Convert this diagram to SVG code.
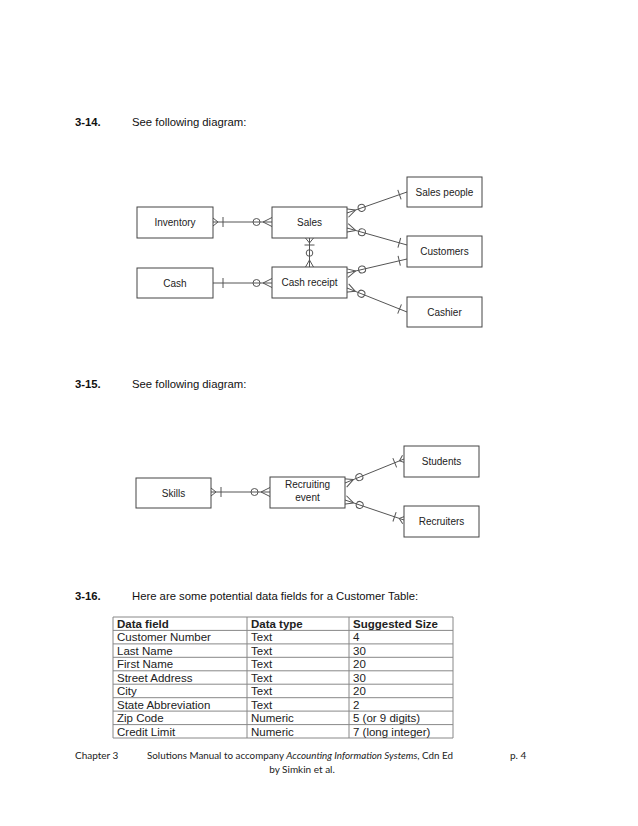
<svg xmlns="http://www.w3.org/2000/svg" width="638" height="826" viewBox="0 0 638 826">
<style>
.head{font-family:"Liberation Sans",Arial,sans-serif;font-size:11.3px;fill:#111}
.b{font-weight:bold}
.ent rect{fill:#fff;stroke:#444;stroke-width:1}
.ent text{font-family:"Liberation Sans",Arial,sans-serif;font-size:10px;fill:#222;text-anchor:middle}
.conn path{fill:none;stroke:#555;stroke-width:1}
.mk{fill:none;stroke:#555;stroke-width:1}
.tbl line{stroke:#888;stroke-width:1}
.tbl text{font-family:"Liberation Sans",Arial,sans-serif;font-size:11.5px;fill:#222}
.foot{font-family:Lato,"Open Sans",sans-serif;font-size:10px;fill:#222}
</style>
<defs>
<marker id="zm" markerUnits="userSpaceOnUse" markerWidth="40" markerHeight="20" refX="0" refY="0" orient="auto-start-reverse" overflow="visible">
<path class="mk" d="M-9,0 L0,-4.5 M-9,0 L0,4.5"/>
<circle class="mk" cx="-15.5" cy="0" r="3.5" fill="#fff"/>
</marker>
<marker id="zmS" markerUnits="userSpaceOnUse" markerWidth="40" markerHeight="20" refX="0" refY="0" orient="auto-start-reverse" overflow="visible">
<path class="mk" d="M-7,0 L0,-4 M-7,0 L0,4"/>
<circle class="mk" cx="-14" cy="0" r="3.3" fill="#fff"/>
</marker>
<marker id="om" markerUnits="userSpaceOnUse" markerWidth="40" markerHeight="20" refX="0" refY="0" orient="auto-start-reverse" overflow="visible">
<path class="mk" d="M-5,0 L0,-4 M-5,0 L0,4 M-10,-5 L-10,5"/>
</marker>
<marker id="omS" markerUnits="userSpaceOnUse" markerWidth="40" markerHeight="20" refX="0" refY="0" orient="auto-start-reverse" overflow="visible">
<path class="mk" d="M-5,0 L0,-4 M-5,0 L0,4 M-7,-5 L-7,5"/>
</marker>
<marker id="one" markerUnits="userSpaceOnUse" markerWidth="40" markerHeight="20" refX="0" refY="0" orient="auto-start-reverse" overflow="visible">
<path class="mk" d="M-8,-5 L-8,5"/>
</marker>
<marker id="oneL" markerUnits="userSpaceOnUse" markerWidth="40" markerHeight="20" refX="0" refY="0" orient="auto-start-reverse" overflow="visible">
<path class="mk" d="M-10,-5 L-10,5"/>
</marker>
</defs>
<rect width="638" height="826" fill="#fff"/>

<text class="head b" x="75" y="126">3-14.</text>
<text class="head" x="132" y="126">See following diagram:</text>
<text class="head b" x="75" y="388">3-15.</text>
<text class="head" x="132" y="388">See following diagram:</text>
<text class="head b" x="75" y="600">3-16.</text>
<text class="head" x="132" y="600">Here are some potential data fields for a Customer Table:</text>

<g id="connectors" class="conn">
<path d="M213,222 H272" marker-start="url(#om)" marker-end="url(#zm)"/>
<path d="M213,283 H272" marker-start="url(#oneL)" marker-end="url(#zm)"/>
<path d="M309.5,238 V267" marker-start="url(#omS)" marker-end="url(#zmS)"/>
<path d="M347,213 L407,192" marker-start="url(#zm)" marker-end="url(#one)"/>
<path d="M347,228 L407,245" marker-start="url(#zm)" marker-end="url(#one)"/>
<path d="M347,273 L407,259" marker-start="url(#zm)" marker-end="url(#one)"/>
<path d="M347,288 L407,312" marker-start="url(#zm)" marker-end="url(#one)"/>
<path d="M211,492 H270" marker-start="url(#om)" marker-end="url(#zm)"/>
<path d="M345,483 L404,459" marker-start="url(#zm)" marker-end="url(#om)"/>
<path d="M345,500 L404,520" marker-start="url(#zm)" marker-end="url(#om)"/>
</g>

<g id="inventory" class="ent"><rect x="137" y="207" width="76" height="31"/><text x="175" y="226">Inventory</text></g>
<g id="sales" class="ent"><rect x="272" y="207" width="75" height="31"/><text x="309.5" y="226">Sales</text></g>
<g id="cash" class="ent"><rect x="137" y="268" width="76" height="30"/><text x="175" y="286.5">Cash</text></g>
<g id="cash-receipt" class="ent"><rect x="272" y="267" width="75" height="31"/><text x="309.5" y="286">Cash receipt</text></g>
<g id="sales-people" class="ent"><rect x="407" y="177" width="75" height="30"/><text x="444.5" y="195.5">Sales people</text></g>
<g id="customers" class="ent"><rect x="407" y="236" width="75" height="31"/><text x="444.5" y="255">Customers</text></g>
<g id="cashier" class="ent"><rect x="407" y="297" width="75" height="30"/><text x="444.5" y="315.5">Cashier</text></g>

<g id="skills" class="ent"><rect x="136" y="478" width="75" height="30"/><text x="173.5" y="496.5">Skills</text></g>
<g id="recruiting-event" class="ent"><rect x="270" y="477" width="75" height="31"/><text x="307.5" y="488">Recruiting</text><text x="307.5" y="501">event</text></g>
<g id="students" class="ent"><rect x="404" y="446" width="75" height="31"/><text x="441.5" y="465">Students</text></g>
<g id="recruiters" class="ent"><rect x="404" y="506" width="75" height="31"/><text x="441.5" y="525">Recruiters</text></g>

<g id="table" class="tbl">
<line x1="113" y1="617" x2="453" y2="617"/>
<line x1="113" y1="630.4" x2="453" y2="630.4"/>
<line x1="113" y1="643.9" x2="453" y2="643.9"/>
<line x1="113" y1="657.3" x2="453" y2="657.3"/>
<line x1="113" y1="670.8" x2="453" y2="670.8"/>
<line x1="113" y1="684.2" x2="453" y2="684.2"/>
<line x1="113" y1="697.7" x2="453" y2="697.7"/>
<line x1="113" y1="711.1" x2="453" y2="711.1"/>
<line x1="113" y1="724.6" x2="453" y2="724.6"/>
<line x1="113" y1="738" x2="453" y2="738"/>
<line x1="113" y1="617" x2="113" y2="738"/>
<line x1="247" y1="617" x2="247" y2="738"/>
<line x1="349" y1="617" x2="349" y2="738"/>
<line x1="453" y1="617" x2="453" y2="738"/>
<text x="117" y="628" font-weight="bold">Data field</text>
<text x="251" y="628" font-weight="bold">Data type</text>
<text x="353" y="628" font-weight="bold">Suggested Size</text>
<text x="117" y="641.4">Customer Number</text><text x="251" y="641.4">Text</text><text x="353" y="641.4">4</text>
<text x="117" y="654.9">Last Name</text><text x="251" y="654.9">Text</text><text x="353" y="654.9">30</text>
<text x="117" y="668.3">First Name</text><text x="251" y="668.3">Text</text><text x="353" y="668.3">20</text>
<text x="117" y="681.8">Street Address</text><text x="251" y="681.8">Text</text><text x="353" y="681.8">30</text>
<text x="117" y="695.2">City</text><text x="251" y="695.2">Text</text><text x="353" y="695.2">20</text>
<text x="117" y="708.7">State Abbreviation</text><text x="251" y="708.7">Text</text><text x="353" y="708.7">2</text>
<text x="117" y="722.1">Zip Code</text><text x="251" y="722.1">Numeric</text><text x="353" y="722.1">5 (or 9 digits)</text>
<text x="117" y="735.6">Credit Limit</text><text x="251" y="735.6">Numeric</text><text x="353" y="735.6">7 (long integer)</text>
</g>

<text class="foot" x="75" y="759">Chapter 3</text>
<text class="foot" x="147" y="759" textLength="306" lengthAdjust="spacingAndGlyphs">Solutions Manual to accompany <tspan font-style="italic">Accounting Information Systems</tspan>, Cdn Ed</text>
<text class="foot" x="510" y="759">p. 4</text>
<text class="foot" x="302" y="773" text-anchor="middle">by Simkin et al.</text>
</svg>
